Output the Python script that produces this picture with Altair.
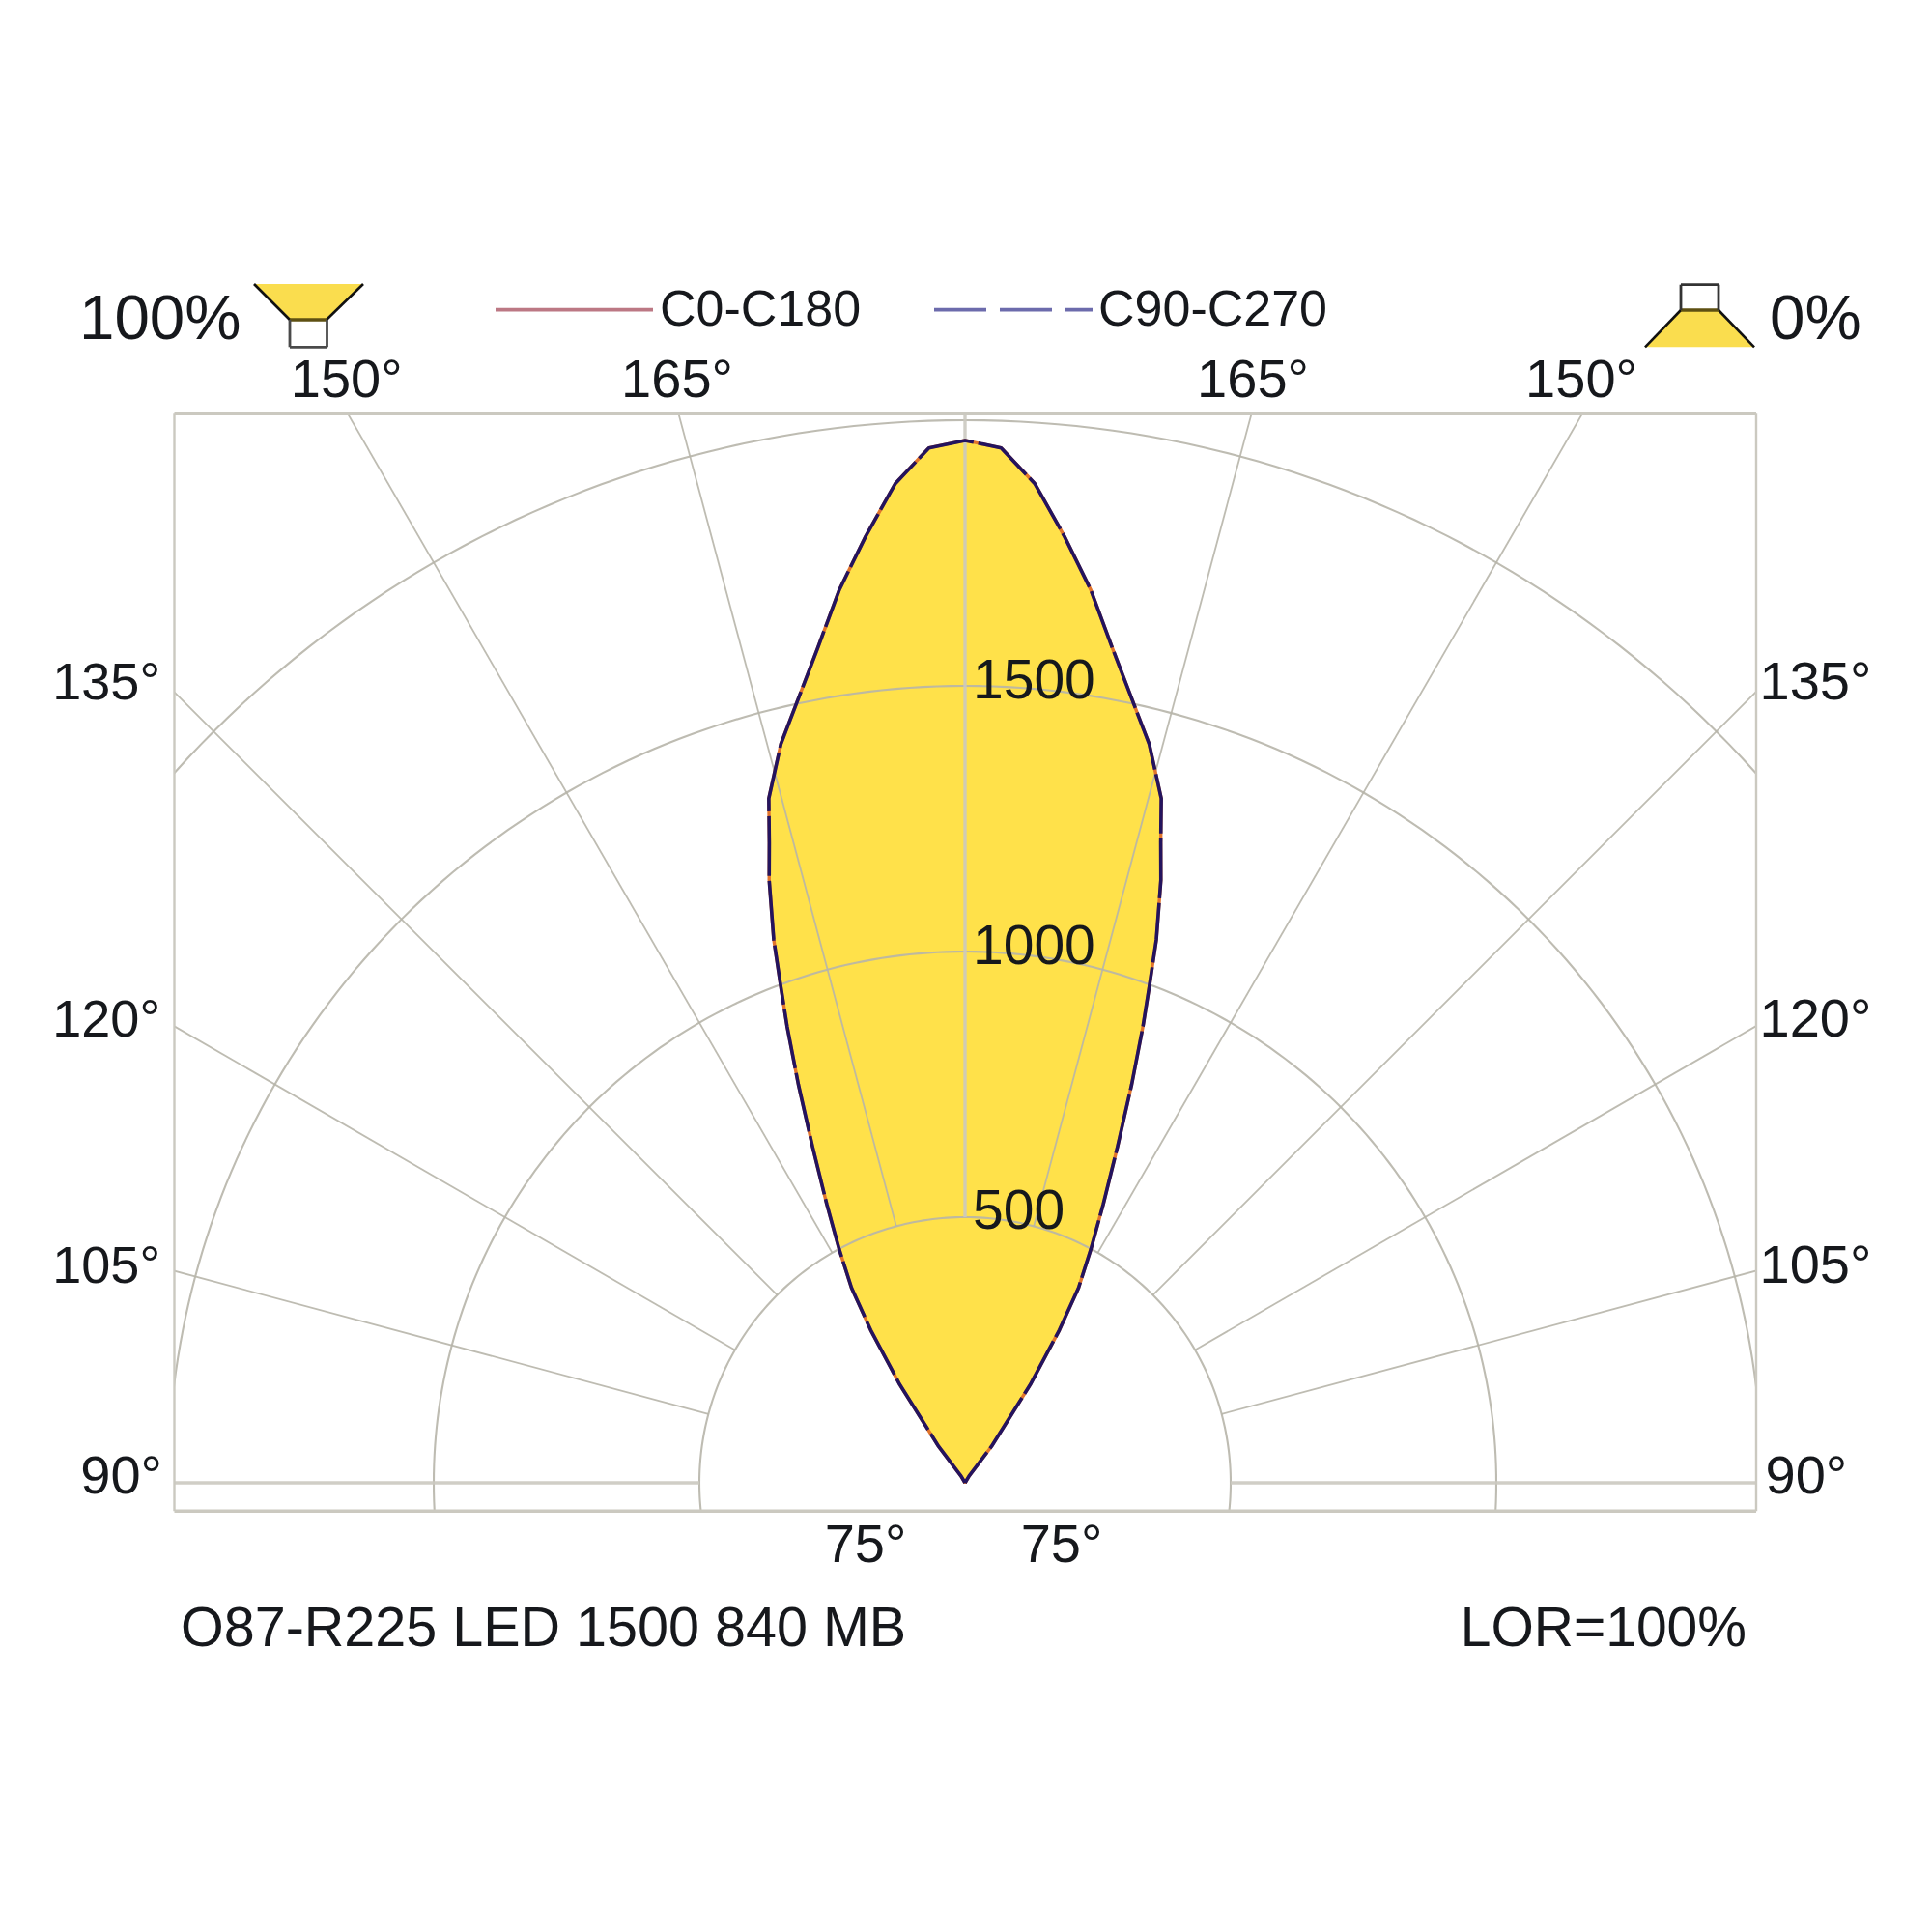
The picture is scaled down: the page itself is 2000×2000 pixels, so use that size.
import math
import altair as alt
import pandas as pd

# Polar readings: half-angle from the axis (degrees) and intensity (cd/klm)
ANGLES = [0, 2, 4, 6, 8, 10, 12, 14, 16, 17, 18, 19.4, 20.35, 21.3, 22.7, 24.4, 26.4, 28.3, 30.2, 31.7, 33.6, 36, 31, 0]
I_C0 = [1962, 1949, 1885, 1791, 1698, 1596, 1509, 1433, 1340, 1260, 1193, 1084, 998, 922, 813, 695, 585, 500, 425, 338, 222, 85, 15, 0]
I_C90 = [1962, 1949, 1885, 1791, 1698, 1596, 1509, 1433, 1340, 1260, 1193, 1084, 998, 922, 813, 695, 585, 500, 425, 338, 222, 85, 15, 0]

RINGS = [500, 1000, 1500, 2000]
RAYS = [15, 30, 45, 60, 75]
THICK_RAYS = [0, 90]
RING_LABELS = ["500", "1000", "1500"]

FONT = "Liberation Sans"
INK = "#16181c"
GRID = "#b7b5aa"
FRAME = "#cbc9c0"
YELLOW = "#FFE14A"

# frame position on the 2000 px page and chart scale
BOX_L, BOX_R, BOX_T, BOX_B = 180.5, 1818.0, 428.3, 1564.3
OX, OY, PX_PER_CD = 999.0, 1535.0, 0.55
W, H = BOX_R - BOX_L, BOX_B - BOX_T

XS = alt.Scale(domain=[(BOX_L - OX) / PX_PER_CD, (BOX_R - OX) / PX_PER_CD], nice=False, zero=False)
YS = alt.Scale(domain=[(OY - BOX_B) / PX_PER_CD, (OY - BOX_T) / PX_PER_CD], nice=False, zero=False)
X = lambda f="x", **k: alt.X(f"{f}:Q", scale=XS, axis=None, title=None, **k)
Y = lambda f="y", **k: alt.Y(f"{f}:Q", scale=YS, axis=None, title=None, **k)
X2 = lambda f="x2": alt.X2(f"{f}:Q")


def polar(a, r):
    return r * math.sin(math.radians(a)), r * math.cos(math.radians(a))


# --- curve tables ---
def outline(values):
    rows = []
    n = len(ANGLES)
    for i, (a, v) in enumerate(zip(ANGLES[::-1], values[::-1])):
        x, y = polar(-a, v)
        rows.append({"i": i, "x": x, "y": y})
    for i, (a, v) in enumerate(zip(ANGLES[1:], values[1:])):
        x, y = polar(a, v)
        rows.append({"i": n + i, "x": x, "y": y})
    return pd.DataFrame(rows)


fill_df = pd.DataFrame(
    [{"y": polar(a, v)[1], "xl": -polar(a, v)[0], "xr": polar(a, v)[0]} for a, v in zip(ANGLES, I_C0)]
)

layers = []
layers.append(
    alt.Chart(fill_df).mark_area(orient="horizontal", color=YELLOW, opacity=1, interpolate="linear").encode(
        y=Y(), x=X("xl"), x2=X2("xr")
    )
)

# --- grid ---
ring_rows = []
for r in RINGS:
    for a in range(-110, 111, 1):
        x, y = polar(a, r)
        ring_rows.append({"ring": r, "a": a, "x": x, "y": y})
layers.append(
    alt.Chart(pd.DataFrame(ring_rows)).mark_line(clip=True, color=GRID, strokeWidth=2.1, opacity=0.9).encode(
        x=X(), y=Y(), detail="ring:N", order="a:Q"
    )
)


def ray_layer(angles, width, colour):
    rows = []
    for a in angles:
        for side in ([1, -1] if a else [1]):
            for r in (RINGS[0], 3000):
                x, y = polar(side * a, r)
                rows.append({"ray": side * a, "r": r, "x": x, "y": y})
    return alt.Chart(pd.DataFrame(rows)).mark_line(clip=True, color=colour, strokeWidth=width, opacity=0.9).encode(
        x=X(), y=Y(), detail="ray:N", order="r:Q"
    )


layers.append(ray_layer(RAYS, 1.8, GRID))
layers.append(ray_layer(THICK_RAYS, 3.4, FRAME))


# --- page-pixel helpers for annotations ---
def seg(x0, y0, x1, y1, colour, width, dash=None):
    kw = {"color": colour, "strokeWidth": width}
    if dash:
        kw["strokeDash"] = dash
    return alt.Chart(alt.Data(values=[{}])).mark_rule(**kw).encode(
        x=alt.value(x0 - BOX_L), x2=alt.value(x1 - BOX_L),
        y=alt.value(y0 - BOX_T), y2=alt.value(y1 - BOX_T),
    )


def label(text, x, y, size, align="left", colour=INK):
    return alt.Chart(alt.Data(values=[{}])).mark_text(
        text=text, font=FONT, fontSize=size, align=align, baseline="alphabetic", color=colour
    ).encode(x=alt.value(x - BOX_L), y=alt.value(y - BOX_T))


# frame
layers += [
    seg(BOX_L, BOX_T, BOX_R, BOX_T, FRAME, 3.4),
    seg(BOX_L, BOX_B, BOX_R, BOX_B, FRAME, 3.4),
    seg(BOX_L, BOX_T, BOX_L, BOX_B, FRAME, 2.4),
    seg(BOX_R, BOX_T, BOX_R, BOX_B, FRAME, 2.4),
]

# curves
layers.append(
    alt.Chart(outline(I_C0)).mark_line(color="#E2752C", strokeWidth=3.4, strokeJoin="round").encode(
        x=X(), y=Y(), order="i:Q"
    )
)
layers.append(
    alt.Chart(outline(I_C90)).mark_line(color="#24145E", strokeWidth=3.6, strokeDash=[62, 5], strokeJoin="round").encode(
        x=X(), y=Y(), order="i:Q"
    )
)


# luminaire icons
def trapezoid(y_a, xa0, xa1, y_b, xb0, xb1):
    rows = [
        {"y": (OY - y_a) / PX_PER_CD, "x": (xa0 - OX) / PX_PER_CD, "x2": (xa1 - OX) / PX_PER_CD},
        {"y": (OY - y_b) / PX_PER_CD, "x": (xb0 - OX) / PX_PER_CD, "x2": (xb1 - OX) / PX_PER_CD},
    ]
    return alt.Chart(pd.DataFrame(rows)).mark_area(orient="horizontal", color="#FADD4E").encode(
        y=Y(), x=X(), x2=X2()
    )


ICON = "#4a4a4a"
layers += [
    trapezoid(294, 263, 376, 331, 300, 338),
    seg(263, 294, 300, 331, "#111111", 2.6),
    seg(376, 294, 338, 331, "#111111", 2.6),
    seg(300, 331, 338, 331, "#5e5012", 3.6),
    seg(300, 331, 300, 359.3, ICON, 2.8),
    seg(338.5, 331, 338.5, 359.3, ICON, 2.8),
    seg(300, 359.3, 338.5, 359.3, ICON, 2.8),
    trapezoid(321, 1740, 1779, 359.3, 1703, 1816),
    seg(1740, 321, 1703, 359.3, "#111111", 2.6),
    seg(1779, 321, 1816, 359.3, "#111111", 2.6),
    seg(1740, 321, 1779, 321, "#5e5012", 3.6),
    seg(1740, 294.7, 1740, 321, "#333333", 2.8),
    seg(1779, 294.7, 1779, 321, "#333333", 2.8),
    seg(1740, 294.7, 1779, 294.7, "#333333", 2.8),
]

# legend keys
layers += [
    seg(513, 320.7, 676, 320.7, "#BC7884", 3.8),
    seg(967, 320.7, 1131, 320.7, "#6C6BAC", 3.8, dash=[54, 14]),
]

# text
for text, x, y, size, align in [
    ("100%", 82, 351, 65.5, "left"),
    ("0%", 1832, 351, 65.5, "left"),
    ("C0-C180", 683, 336.5, 52, "left"),
    ("C90-C270", 1137, 336.5, 52, "left"),
    ("150°", 358.7, 411, 56, "center"),
    ("165°", 701, 411, 56, "center"),
    ("165°", 1297, 411, 56, "center"),
    ("150°", 1637, 411, 56, "center"),
    ("135°", 166, 724, 54, "right"),
    ("120°", 166, 1072.5, 54, "right"),
    ("105°", 166, 1328, 54, "right"),
    ("90°", 168, 1546, 56, "right"),
    ("135°", 1821.5, 724, 56, "left"),
    ("120°", 1821.5, 1072.5, 56, "left"),
    ("105°", 1821.5, 1328, 56, "left"),
    ("90°", 1827.5, 1546, 56, "left"),
    ("75°", 896, 1617, 56, "center"),
    ("75°", 1099, 1617, 56, "center"),
    ("O87-R225 LED 1500 840 MB", 187, 1704, 57.5, "left"),
    ("LOR=100%", 1808, 1704, 57, "right"),
    (RING_LABELS[2], 1007, 722.5, 57, "left"),
    (RING_LABELS[1], 1007, 998, 57, "left"),
    (RING_LABELS[0], 1007, 1272, 57, "left"),
]:
    layers.append(label(text, x, y, size, align))

chart = (
    alt.layer(*layers)
    .properties(
        width=W,
        height=H,
        background="white",
        autosize="none",
        padding={"left": BOX_L - 8, "top": BOX_T - 8, "right": 2000 - BOX_R - 16, "bottom": 2000 - BOX_B - 16},
    )
    .configure_view(stroke=None)
)

chart.save("out.html", embed_options={"renderer": "svg", "actions": False})
